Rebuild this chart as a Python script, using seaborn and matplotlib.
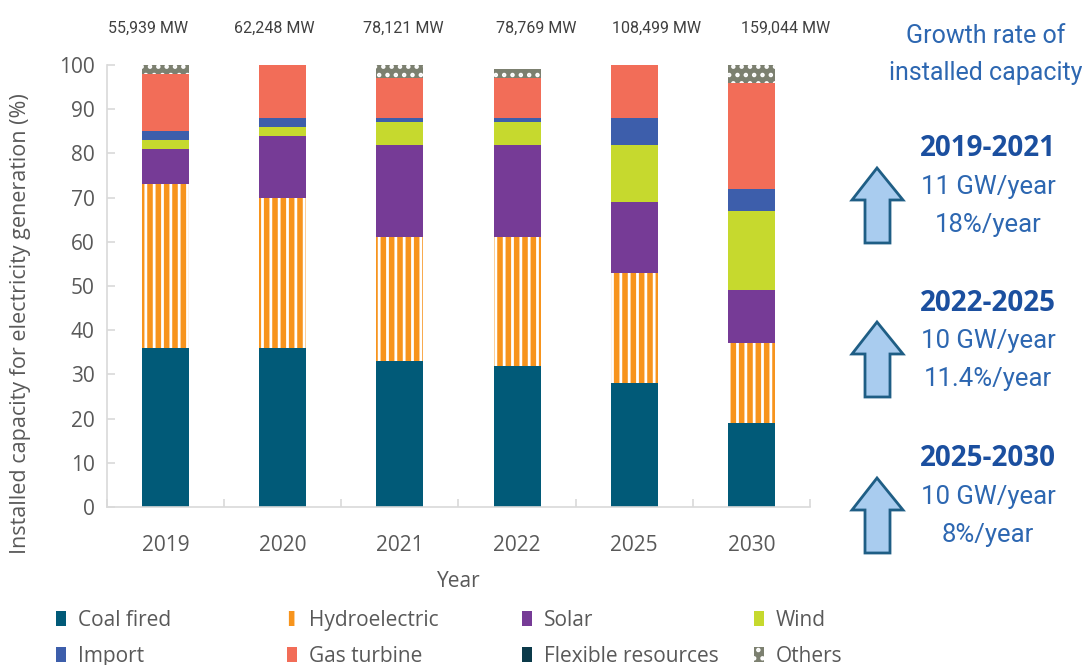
import matplotlib
matplotlib.use("Agg")
import matplotlib.pyplot as plt
import numpy as np
import pandas as pd
import seaborn as sns
from matplotlib.patches import Patch, Polygon
from matplotlib import font_manager

# ---------------- data ----------------
years = ["2019", "2020", "2021", "2022", "2025", "2030"]
totals = ["55,939 MW", "62,248 MW", "78,121 MW", "78,769 MW", "108,499 MW", "159,044 MW"]
coal = [36, 36, 33, 32, 28, 19]
hydro = [37, 34, 28, 29, 25, 18]
solar = [8, 14, 21, 21, 16, 12]
wind = [2, 2, 5, 5, 13, 18]
imports = [2, 2, 1, 1, 6, 5]
gas = [13, 12, 9, 9, 12, 24]
flexible = [0, 0, 0, 0, 0, 0]
others = [2, 0, 3, 2, 0, 4]

series_names = ["Coal fired", "Hydroelectric", "Solar", "Wind", "Import",
                "Gas turbine", "Flexible resources", "Others"]
series_values = [coal, hydro, solar, wind, imports, gas, flexible, others]

growth_periods = ["2019-2021", "2022-2025", "2025-2030"]
growth_gw = ["11 GW/year", "10 GW/year", "10 GW/year"]
growth_pct = ["18%/year", "11.4%/year", "8%/year"]

# ---------------- styles / layout ----------------
colors = {
    "Coal fired": "#015a78",
    "Hydroelectric": "#f7941d",
    "Solar": "#763b96",
    "Wind": "#c6d92e",
    "Import": "#3d5eab",
    "Gas turbine": "#f26d58",
    "Flexible resources": "#0b3a4a",
    "Others": "#7c8070",
}
hatches = {"Hydroelectric": "||", "Others": ".."}
# horizontal shift (in category units) of the total labels above the bars
total_label_shift = [-0.15, -0.07, 0.03, 0.16, 0.19, 0.29]


def pick(fams):
    avail = {f.name for f in font_manager.fontManager.ttflist}
    return [f for f in fams if f in avail] + ["DejaVu Sans"]


sns.set_theme(style="white")
main_font = pick(["Open Sans", "Noto Sans"])
narrow_font = pick(["Liberation Sans Narrow", "Roboto", "Open Sans"])
plt.rcParams["font.family"] = main_font
plt.rcParams["hatch.linewidth"] = 2.0

text_gray = "#595959"
spine_gray = "#d9d9d9"

W, H = 1082, 665
fig = plt.figure(figsize=(W / 100, H / 100), dpi=100)
ax = fig.add_axes([107 / W, 158 / H, 703 / W, 442 / H])

df = pd.DataFrame(dict(zip(series_names, series_values)), index=years)
cum = df.cumsum(axis=1)

for name in reversed(series_names):
    h = hatches.get(name)
    sns.barplot(x=years, y=cum[name].values, order=years, color=colors[name],
                width=0.4, saturation=1, edgecolor="white" if h else colors[name],
                linewidth=0, hatch=h, errorbar=None, ax=ax)

ax.set_xlim(-0.5, len(years) - 0.5)
ax.set_ylim(0, 100)
ax.set_yticks(np.arange(0, 101, 10))
sns.despine(ax=ax, top=True, right=True)
for s in ["left", "bottom"]:
    ax.spines[s].set_color(spine_gray)
    ax.spines[s].set_linewidth(1.2)

ax.tick_params(axis="y", direction="in", length=6, width=1.2, color=spine_gray,
               labelsize=15, labelcolor=text_gray, pad=9, left=True)
ax.tick_params(axis="x", which="major", length=0, labelsize=15,
               labelcolor=text_gray, pad=20)
ax.set_xticks(np.arange(-0.5, len(years), 1.0), minor=True)
ax.tick_params(axis="x", which="minor", direction="in", length=6, width=1.2,
               color=spine_gray, bottom=True)

ax.set_xlabel("Year", fontsize=15, color=text_gray, labelpad=11)
ax.set_ylabel("Installed capacity for electricity generation (%)", fontsize=15.5,
              color=text_gray)
ax.yaxis.set_label_coords(-0.108, 0.415)

for i, (t, dx) in enumerate(zip(totals, total_label_shift)):
    ax.text(i + dx, 1.082, t, transform=ax.get_xaxis_transform(), ha="center",
            va="center", fontsize=11.5, color="#404040", family=narrow_font)

# ---------------- legend (4 columns, equally spaced) ----------------
col_x = [56, 287, 522, 754]
cols = [["Coal fired", "Import"], ["Hydroelectric", "Gas turbine"],
        ["Solar", "Flexible resources"], ["Wind", "Others"]]
for cx, names in zip(col_x, cols):
    handles = [Patch(facecolor=colors[n], edgecolor="white" if n in hatches else colors[n],
                     hatch=hatches.get(n), linewidth=0, label=n) for n in names]
    leg = fig.legend(handles=handles, loc="upper left",
                     bbox_to_anchor=(cx / W, 1 - 610 / H), frameon=False,
                     fontsize=15, handlelength=0.5, handleheight=0.7,
                     handletextpad=0.55, labelspacing=0.72, borderpad=0,
                     borderaxespad=0)
    for txt in leg.get_texts():
        txt.set_color(text_gray)

# ---------------- right panel ----------------
blue = "#2d67b1"
dark_blue = "#1b4f9f"
fig.text(986 / W, 1 - 36 / H, "Growth rate of", ha="center", va="center",
         fontsize=18, color=blue, family=narrow_font)
fig.text(986 / W, 1 - 73 / H, "installed capacity", ha="center", va="center",
         fontsize=18, color=blue, family=narrow_font)

block_y = [149, 303, 459]
for by, per, gw, pct in zip(block_y, growth_periods, growth_gw, growth_pct):
    fig.text(988 / W, 1 - by / H, per, ha="center", va="center", fontsize=20,
             fontweight="bold", color=dark_blue)
    fig.text(988 / W, 1 - (by + 38) / H, gw, ha="center", va="center",
             fontsize=18.5, color=blue, family=narrow_font)
    fig.text(988 / W, 1 - (by + 76) / H, pct, ha="center", va="center",
             fontsize=18.5, color=blue, family=narrow_font)
    top = by + 19
    base = by + 51
    bot = by + 94
    pts = [(877, top), (903, base), (890, base), (890, bot), (865, bot),
           (865, base), (852, base)]
    poly = Polygon([(x / W, 1 - y / H) for x, y in pts], closed=True,
                   transform=fig.transFigure, facecolor="#a9ccef",
                   edgecolor="#1f5e85", linewidth=2.0, joinstyle="miter")
    fig.patches.append(poly)

fig.savefig("out.png", dpi=100)
